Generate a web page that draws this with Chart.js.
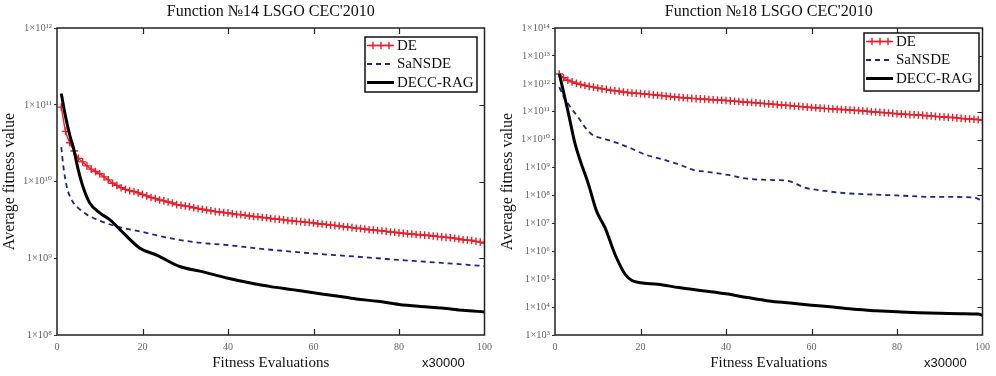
<!DOCTYPE html>
<html><head><meta charset="utf-8">
<script src="https://cdn.jsdelivr.net/npm/chart.js@4/dist/chart.umd.min.js"></script>
<style>
html,body{margin:0;padding:0;background:#fff;width:996px;height:376px;overflow:hidden}
.box{position:absolute;top:0;width:498px;height:376px}
</style></head><body>
<div class="box" style="left:0"><canvas id="c1" width="498" height="376"></canvas></div>
<div class="box" style="left:498px"><canvas id="c2" width="498" height="376"></canvas></div>
<script>
// ---------- shared ----------
const seriesNames = ['DE', 'SaNSDE', 'DECC-RAG'];
const xTicks = [0, 20, 40, 60, 80, 100];
const xTitle = 'Fitness Evaluations';
const xMultiplier = 'x30000';
const yTitle = 'Average fitness value';
const evalsDE = [1,2,3,4,5,6,7,8,9,10,11,12,13,14,15,16,17,18,19,20,21,22,23,24,25,26,27,28,29,30,31,32,33,34,35,36,37,38,39,40,41,42,43,44,45,46,47,48,49,50,51,52,53,54,55,56,57,58,59,60,61,62,63,64,65,66,67,68,69,70,71,72,73,74,75,76,77,78,79,80,81,82,83,84,85,86,87,88,89,90,91,92,93,94,95,96,97,98,99,100];

// ---------- Function 14 ----------
const f14Title = 'Function \u211614 LSGO CEC\'2010';
const f14YTicks = [1e8, 1e9, 1e10, 1e11, 1e12];
const f14YLabels = ['1\u00d710\u2078', '1\u00d710\u2079', '1\u00d710\u00b9\u2070', '1\u00d710\u00b9\u00b9', '1\u00d710\u00b9\u00b2'];
const f14DE = [9.3e10,4.5e10,3.2e10,2.5e10,2.0e10,1.8e10,1.6e10,1.45e10,1.35e10,1.26e10,
1.15e10,1.05e10,9.5e9,8.9e9,8.3e9,7.9e9,7.6e9,7.4e9,7.1e9,6.8e9,
6.5e9,6.2e9,6.0e9,5.75e9,5.6e9,5.4e9,5.25e9,5.0e9,4.9e9,4.8e9,
4.7e9,4.55e9,4.45e9,4.35e9,4.25e9,4.15e9,4.05e9,4.0e9,3.95e9,3.9e9,
3.8e9,3.72e9,3.7e9,3.63e9,3.55e9,3.5e9,3.47e9,3.4e9,3.37e9,3.3e9,
3.24e9,3.22e9,3.16e9,3.1e9,3.08e9,3.02e9,3.0e9,2.95e9,2.93e9,2.88e9,
2.82e9,2.8e9,2.75e9,2.7e9,2.68e9,2.63e9,2.57e9,2.55e9,2.51e9,2.46e9,
2.44e9,2.4e9,2.35e9,2.33e9,2.3e9,2.28e9,2.24e9,2.2e9,2.18e9,2.14e9,
2.12e9,2.09e9,2.07e9,2.04e9,2.02e9,2.0e9,1.98e9,1.95e9,1.93e9,1.9e9,
1.87e9,1.85e9,1.82e9,1.78e9,1.74e9,1.72e9,1.7e9,1.66e9,1.62e9,1.58e9];
const f14SaX = [1, 1.5, 2.3, 3.4, 5.4, 7, 9.3, 13.9, 19.4, 27, 33, 40, 45, 50, 55, 60, 65, 70, 75, 80, 85, 90, 95, 100];
const f14Sa = [2.8e10, 1.55e10, 8.5e9, 5.8e9, 4.3e9, 3.7e9, 3.2e9, 2.6e9, 2.24e9, 1.8e9, 1.6e9, 1.48e9, 1.38e9, 1.29e9, 1.22e9, 1.15e9, 1.1e9, 1.05e9, 1.0e9, 9.5e8, 9.1e8, 8.7e8, 8.3e8, 7.9e8];
const f14RagX = [1, 2, 3, 3.8, 5, 6.1, 7.7, 10, 12.4, 15.5, 19.4, 23.3, 28.7, 33.4, 40, 45, 50, 55, 60, 65, 70, 75, 80, 85, 90, 95, 100];
const f14Rag = [1.4e11, 7e10, 4e10, 2.8e10, 1.4e10, 8.5e9, 5.2e9, 3.9e9, 3.16e9, 2.14e9, 1.35e9, 1.1e9, 7.8e8, 6.8e8, 5.5e8, 4.8e8, 4.27e8, 3.9e8, 3.55e8, 3.25e8, 2.95e8, 2.75e8, 2.5e8, 2.35e8, 2.24e8, 2.1e8, 2.0e8];

// ---------- Function 18 ----------
const f18Title = 'Function \u211618 LSGO CEC\'2010';
const f18YTicks = [1e3,1e4,1e5,1e6,1e7,1e8,1e9,1e10,1e11,1e12,1e13,1e14];
const f18YLabels = ['1\u00d710\u00b3','1\u00d710\u2074','1\u00d710\u2075','1\u00d710\u2076','1\u00d710\u2077','1\u00d710\u2078','1\u00d710\u2079','1\u00d710\u00b9\u2070','1\u00d710\u00b9\u00b9','1\u00d710\u00b9\u00b2','1\u00d710\u00b9\u00b3','1\u00d710\u00b9\u2074'];
const f18DE = [2.24e12,1.66e12,1.35e12,1.17e12,1.05e12,9.5e11,8.7e11,8.1e11,7.6e11,7.1e11,
6.6e11,6.3e11,5.9e11,5.6e11,5.4e11,5.1e11,4.9e11,4.7e11,4.6e11,4.47e11,
4.3e11,4.17e11,4.03e11,3.9e11,3.76e11,3.63e11,3.5e11,3.39e11,3.27e11,3.16e11,
3.09e11,3.02e11,2.95e11,2.88e11,2.82e11,2.75e11,2.69e11,2.63e11,2.57e11,2.51e11,
2.45e11,2.37e11,2.32e11,2.24e11,2.19e11,2.14e11,2.09e11,2.02e11,1.95e11,1.91e11,
1.86e11,1.8e11,1.74e11,1.7e11,1.66e11,1.58e11,1.55e11,1.51e11,1.46e11,1.41e11,
1.38e11,1.35e11,1.32e11,1.29e11,1.26e11,1.23e11,1.2e11,1.17e11,1.15e11,1.12e11,
1.1e11,1.07e11,1.04e11,1.0e11,9.8e10,9.5e10,9.3e10,9.0e10,8.7e10,8.5e10,
8.3e10,8.1e10,7.9e10,7.8e10,7.6e10,7.4e10,7.2e10,7.1e10,6.8e10,6.6e10,
6.5e10,6.3e10,6.2e10,6.0e10,5.8e10,5.6e10,5.5e10,5.4e10,5.2e10,5.0e10];
const f18SaX = [1, 2, 3, 4, 5.4, 7, 9, 11, 13.2, 17.1, 21, 25, 28.8, 32.7, 35, 40, 45, 50, 54, 56, 58, 64, 68, 72, 80, 88, 98, 100];
const f18Sa = [7.6e11, 3.5e11, 2.0e11, 1.2e11, 6.5e10, 2.8e10, 1.4e10, 1.12e10, 8.9e9, 5.4e9, 2.95e9, 2.0e9, 1.32e9, 7.9e8, 7.2e8, 5.6e8, 4.0e8, 3.6e8, 3.4e8, 2.8e8, 2.0e8, 1.4e8, 1.2e8, 1.12e8, 1.0e8, 8.9e7, 8.5e7, 6.3e7];
const f18RagX = [1, 3, 4.7, 6, 7.8, 9.7, 11.7, 14, 16.4, 18, 20, 24, 29, 35, 40, 45, 50, 55, 60, 65, 70, 75, 80, 85, 90, 95, 99, 100];
const f18Rag = [2.3e12, 1.1e11, 7e9, 1.6e9, 2.6e8, 2.8e7, 7e6, 8e5, 1.5e5, 9e4, 7.4e4, 6.6e4, 5e4, 3.8e4, 3e4, 2.2e4, 1.66e4, 1.4e4, 1.17e4, 1.0e4, 8.3e3, 7.4e3, 6.8e3, 6.3e3, 6.0e3, 5.8e3, 5.6e3, 5.0e3];

// ---------- styling ----------
const SERIF = '"Liberation Serif", "Times New Roman", "DejaVu Serif", serif';
const SANS = '"Liberation Sans", Arial, sans-serif';
const RED = '#e3202c';
const BLUE = '#23238f';
const BLACK = '#000000';

function drawCross(ctx, x, y, r) {
  ctx.moveTo(x - r, y); ctx.lineTo(x + r, y);
  ctx.moveTo(x, y - r); ctx.lineTo(x, y + r);
}

const framePlugin = {
  id: 'frame',
  afterDraw(chart, args, opts) {
    const {ctx, chartArea: a, scales: {x, y}} = chart;
    ctx.save();
    ctx.strokeStyle = '#222';
    ctx.lineWidth = 1.5;
    ctx.strokeRect(a.left, a.top, a.right - a.left, a.bottom - a.top);
    ctx.beginPath();
    xTicks.forEach(v => {
      if (v <= x.min || v >= x.max) return;
      const px = Math.round(x.getPixelForValue(v)) + 0.5;
      ctx.moveTo(px, a.top); ctx.lineTo(px, a.top + 6);
      ctx.moveTo(px, a.bottom); ctx.lineTo(px, a.bottom - 6);
    });
    opts.yTicks.forEach(v => {
      if (v <= y.min || v >= y.max) return;
      const py = Math.round(y.getPixelForValue(v)) + 0.5;
      ctx.moveTo(a.right, py); ctx.lineTo(a.right - 5, py);
    });
    ctx.lineWidth = 1.2;
    ctx.stroke();
    ctx.font = '13px ' + SANS;
    ctx.fillStyle = '#111';
    ctx.textBaseline = 'middle';
    ctx.textAlign = 'left';
    ctx.fillText(xMultiplier, opts.multX, 363);
    const L = opts.legend;
    ctx.fillStyle = '#fff';
    ctx.fillRect(L.x, L.y, L.w, L.h);
    ctx.strokeStyle = '#111';
    ctx.lineWidth = 1.5;
    ctx.strokeRect(L.x, L.y, L.w, L.h);
    ctx.font = '15px ' + SERIF;
    const rows = [8.5, 27, 45.5];
    chart.data.datasets.forEach((ds, i) => {
      const cy = L.y + rows[i];
      const x0 = L.x + 2, x1 = L.x + 29;
      ctx.save();
      ctx.strokeStyle = ds.borderColor;
      ctx.lineWidth = ds.borderWidth;
      ctx.setLineDash(ds.borderDash || []);
      ctx.beginPath(); ctx.moveTo(x0, cy); ctx.lineTo(x1, cy); ctx.stroke();
      if (ds.pointStyle === 'cross') {
        ctx.setLineDash([]);
        ctx.lineWidth = ds.pointBorderWidth;
        ctx.beginPath();
        [x0 + 6, x0 + 14, x0 + 22].forEach(px => drawCross(ctx, px, cy, ds.pointRadius));
        ctx.stroke();
      }
      ctx.restore();
      ctx.fillStyle = '#111';
      ctx.fillText(ds.label, L.x + 32, cy + 0.5);
    });
    ctx.restore();
  }
};

function pts(xs, ys) { return xs.map((v, i) => ({x: v, y: ys[i]})); }

function makeChart(id, cfg) {
  return new Chart(document.getElementById(id), {
    type: 'line',
    data: {
      datasets: [
        { label: seriesNames[0], data: pts(evalsDE, cfg.de), borderColor: RED, backgroundColor: RED,
          borderWidth: 1.4, pointStyle: 'cross', pointRadius: 3.8, pointBorderWidth: 1.4,
          pointBorderColor: RED, pointHoverRadius: 0, cubicInterpolationMode: 'monotone', order: 2 },
        { label: seriesNames[1], data: pts(cfg.saX, cfg.sa), borderColor: BLUE, backgroundColor: BLUE,
          borderWidth: 1.8, borderDash: [5, 4], pointRadius: 0, pointHoverRadius: 0,
          cubicInterpolationMode: 'monotone', order: 1 },
        { label: seriesNames[2], data: pts(cfg.ragX, cfg.rag), borderColor: BLACK, backgroundColor: BLACK,
          borderWidth: 3, pointRadius: 0, pointHoverRadius: 0, cubicInterpolationMode: 'monotone', order: 0 }
      ]
    },
    options: {
      responsive: false, animation: false, events: [],
      layout: { padding: { left: 0, right: 13, top: 0, bottom: 0 } },
      plugins: {
        legend: { display: false },
        tooltip: { enabled: false },
        title: { display: true, text: cfg.title, color: '#111', fullSize: false,
          font: { family: SERIF, size: 16, weight: 'normal' }, padding: { top: 2, bottom: 6.8 } },
        frame: { yTicks: cfg.yTicks, multX: cfg.multX, legend: cfg.legend }
      },
      scales: {
        x: {
          type: 'linear', min: 0, max: 100,
          afterBuildTicks: s => { s.ticks = xTicks.map(v => ({ value: v })); },
          afterFit: s => { s.height = 41; },
          ticks: { font: { family: SERIF, size: 10 }, color: '#666', padding: 6, maxRotation: 0, autoSkip: false },
          grid: { display: false, drawTicks: false },
          border: { display: false },
          title: { display: true, text: xTitle, color: '#111',
            font: { family: SERIF, size: 15 }, padding: { top: 0, bottom: 4 } }
        },
        y: {
          type: 'logarithmic', min: cfg.yTicks[0], max: cfg.yTicks[cfg.yTicks.length - 1],
          afterBuildTicks: s => { s.ticks = cfg.yTicks.map(v => ({ value: v })); },
          afterFit: s => { s.width = 57; },
          ticks: {
            autoSkip: false, padding: 2, color: '#666', font: { family: SERIF, size: 10.5 },
            callback: (value) => {
              const i = cfg.yTicks.findIndex(t => Math.abs(Math.log10(t) - Math.log10(value)) < 1e-6);
              return i >= 0 ? cfg.yLabels[i] : '';
            }
          },
          grid: { display: true, drawOnChartArea: false, drawTicks: true, tickLength: 3, color: '#333' },
          border: { display: false },
          title: { display: true, text: yTitle, color: '#111',
            font: { family: SERIF, size: 16 }, padding: { top: 0, bottom: 0 } }
        }
      }
    },
    plugins: [framePlugin]
  });
}

makeChart('c1', { title: f14Title, yTicks: f14YTicks, yLabels: f14YLabels, de: f14DE,
  saX: f14SaX, sa: f14Sa, ragX: f14RagX, rag: f14Rag, multX: 422,
  legend: { x: 365, y: 37, w: 112, h: 55 } });
makeChart('c2', { title: f18Title, yTicks: f18YTicks, yLabels: f18YLabels, de: f18DE,
  saX: f18SaX, sa: f18Sa, ragX: f18RagX, rag: f18Rag, multX: 426,
  legend: { x: 366, y: 33, w: 115, h: 58 } });
</script>
</body></html>
